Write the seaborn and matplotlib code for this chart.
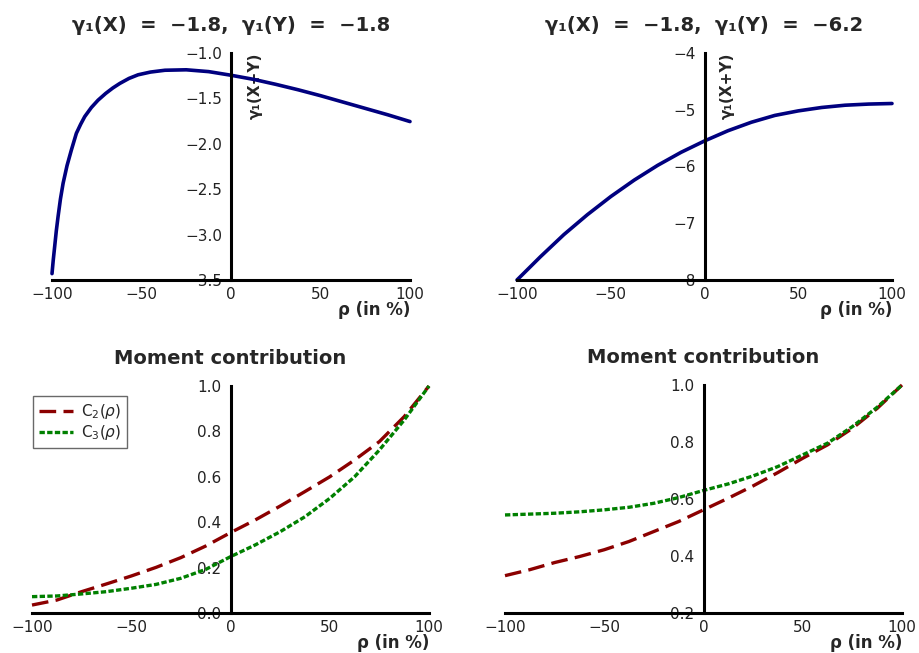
import numpy as np
import pandas as pd
import matplotlib
matplotlib.use("Agg")
import matplotlib.pyplot as plt
from matplotlib.ticker import MultipleLocator
import seaborn as sns

# ---------------- data ----------------
rho_tl = [-100, -99.3, -98.5, -97.6, -96.6, -95.3, -93.8, -91.6, -89.2, -86.4,
          -84, -81.7, -78, -74.3, -70, -66, -62.1, -57, -51.9, -45, -36.9,
          -25, -12.5, 0, 12.5, 25, 37.5, 50, 62.5, 75, 87.5, 100]
g_tl = [-3.43, -3.28, -3.13, -2.96, -2.80, -2.61, -2.435, -2.24, -2.07, -1.885,
        -1.785, -1.70, -1.60, -1.52, -1.445, -1.385, -1.335, -1.28, -1.24,
        -1.21, -1.19, -1.185, -1.205, -1.245, -1.29, -1.345, -1.405, -1.47,
        -1.54, -1.61, -1.68, -1.755]

rho_tr = [-100, -87.5, -75, -62.5, -50, -37.5, -25, -12.5, 0, 12.5, 25, 37.5,
          50, 62.5, 75, 87.5, 100]
g_tr = [-8.0, -7.59, -7.20, -6.85, -6.53, -6.24, -5.98, -5.75, -5.55, -5.37,
        -5.22, -5.10, -5.02, -4.96, -4.92, -4.90, -4.89]

rho_b = [-100, -87.5, -75, -62.5, -50, -37.5, -25, -12.5, 0, 12.5, 25, 37.5,
         50, 62.5, 75, 87.5, 100]
c2_bl = [0.035, 0.057, 0.094, 0.128, 0.163, 0.201, 0.244, 0.295, 0.354, 0.41,
         0.471, 0.535, 0.60, 0.674, 0.755, 0.865, 1.0]
c3_bl = [0.072, 0.075, 0.084, 0.094, 0.109, 0.126, 0.153, 0.192, 0.248, 0.30,
         0.358, 0.424, 0.505, 0.60, 0.718, 0.85, 1.0]
c2_br = [0.331, 0.352, 0.377, 0.398, 0.422, 0.451, 0.486, 0.521, 0.562, 0.603,
         0.646, 0.693, 0.743, 0.79, 0.848, 0.918, 1.0]
c3_br = [0.544, 0.547, 0.55, 0.555, 0.562, 0.571, 0.585, 0.605, 0.630, 0.653,
         0.681, 0.714, 0.755, 0.796, 0.854, 0.922, 1.0]

titles = ["γ₁(X)  =  −1.8,  γ₁(Y)  =  −1.8", "γ₁(X)  =  −1.8,  γ₁(Y)  =  −6.2",
          "Moment contribution", "Moment contribution"]
series_names = ["C$_2$($\\rho$)", "C$_3$($\\rho$)"]
x_label = "ρ (in %)"
y_label = "γ₁(X+Y)"

# ---------------- style ----------------
sns.set_style("white")
plt.rcParams["font.family"] = ["DejaVu Sans"]
plt.rcParams["mathtext.fontset"] = "dejavusans"

W, H = 919, 653
fig = plt.figure(figsize=(W / 100, H / 100), dpi=100)


def add_ax(x0, x1, ytop, ybot):
    return fig.add_axes([x0 / W, 1 - ybot / H, (x1 - x0) / W, (ybot - ytop) / H])


ax_tl = add_ax(52, 410, 53, 280)
ax_tr = add_ax(517, 892, 53, 280)
ax_bl = add_ax(32, 429, 386, 613)
ax_br = add_ax(505, 902, 385, 613)

navy = "#00007f"
red = "#8b0000"
green = "#008000"

df_tl = pd.DataFrame({"rho": rho_tl, "g": g_tl})
df_tr = pd.DataFrame({"rho": rho_tr, "g": g_tr})
sns.lineplot(data=df_tl, x="rho", y="g", ax=ax_tl, color=navy, lw=2.6,
             estimator=None, sort=False)
sns.lineplot(data=df_tr, x="rho", y="g", ax=ax_tr, color=navy, lw=2.6,
             estimator=None, sort=False)

for ax, c2, c3 in [(ax_bl, c2_bl, c3_bl), (ax_br, c2_br, c3_br)]:
    df = pd.DataFrame({"rho": rho_b * 2, "val": c2 + c3,
                       "series": [series_names[0]] * len(rho_b) + [series_names[1]] * len(rho_b)})
    sns.lineplot(data=df, x="rho", y="val", hue="series", style="series", ax=ax,
                 palette=[red, green], dashes=[(5, 2.2), (1.6, 0.7)], lw=2.4,
                 estimator=None, sort=False, legend=(ax is ax_bl))

# ---------------- axes formatting ----------------
limits = [(ax_tl, (-3.5, -1.0), 0.5, 0.25),
          (ax_tr, (-8, -4), 1, 0.5),
          (ax_bl, (0.0, 1.0), 0.2, 0.1),
          (ax_br, (0.2, 1.0), 0.2, 0.1)]
for (ax, ylim, ymaj, ymin), title in zip(limits, titles):
    ax.set_xlim(-100, 100)
    ax.set_ylim(*ylim)
    ax.xaxis.set_major_locator(MultipleLocator(50))
    ax.xaxis.set_minor_locator(MultipleLocator(25))
    ax.yaxis.set_major_locator(MultipleLocator(ymaj))
    ax.yaxis.set_minor_locator(MultipleLocator(ymin))
    for s in ["top", "right"]:
        ax.spines[s].set_visible(False)
    ax.spines["left"].set_position(("data", 0))
    for s in ["left", "bottom"]:
        ax.spines[s].set_linewidth(2.2)
        ax.spines[s].set_color("black")
    ax.tick_params(which="major", direction="inout", length=7, width=1.2,
                   labelsize=11, labelcolor="#222222", color="black")
    ax.tick_params(which="minor", direction="inout", length=5, width=1.0,
                   color="black")
    ax.tick_params(axis="x", which="major", pad=1.5)
    ax.tick_params(axis="y", which="major", pad=3)
    ax.set_title(title, fontsize=14, fontweight="bold", pad=16)
    ax.set_xlabel(x_label, fontsize=12, fontweight="bold", loc="right", labelpad=-1)
    ax.set_ylabel("")
    ax.grid(False)
    ax.patch.set_alpha(0)
    for ln in ax.lines:
        ln.set_clip_on(False)
        ln.set_solid_joinstyle("round")

for ax, xc in [(ax_tl, 0.567), (ax_tr, 0.56)]:
    ax.set_ylabel(y_label, fontsize=11, fontweight="bold", rotation=90)
    ax.yaxis.set_label_coords(xc, 0.855)
    ax.yaxis.label.set_ha("center")
    ax.yaxis.label.set_va("center")

leg = ax_bl.get_legend()
ax_bl.legend(handles=leg.legend_handles, labels=series_names, loc="upper left",
             bbox_to_anchor=(0.003, 0.955), borderaxespad=0, fontsize=11,
             frameon=True, fancybox=False, edgecolor="#444444",
             handlelength=2.2, handletextpad=0.5, labelspacing=0.1,
             borderpad=0.4)
ax_bl.get_legend().get_frame().set_linewidth(1.0)

fig.savefig("out.png", dpi=100)
